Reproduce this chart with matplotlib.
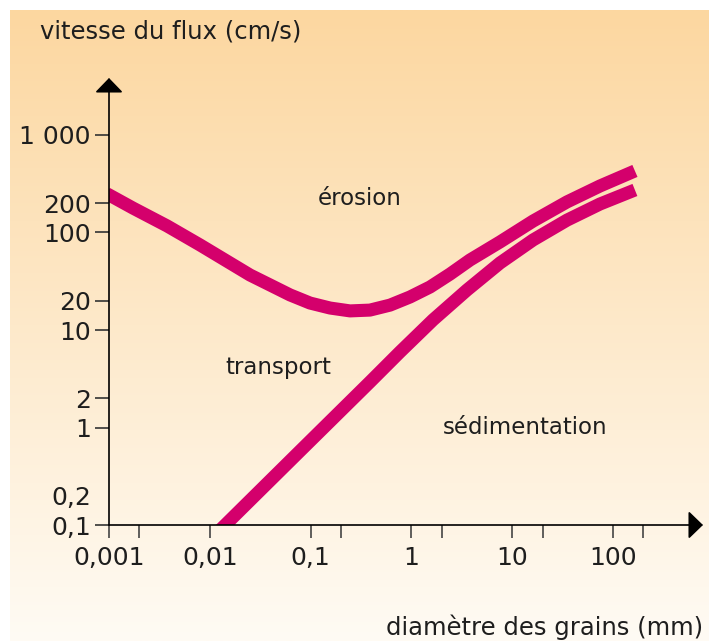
import numpy as np
import matplotlib
matplotlib.use("Agg")
import matplotlib.pyplot as plt

# ===============================
# Data
# ===============================
# erosion threshold (upper curve)
erosion_d = [0.00095, 0.001, 0.00173, 0.00376, 0.008, 0.0251, 0.0395, 0.0625, 0.0987,
             0.156, 0.246, 0.388, 0.614, 0.968, 1.53, 2.42, 3.81, 7.57, 16.1, 35, 74.3, 165]
erosion_v = [250, 243, 178, 117, 74.5, 36.6, 29.0, 22.9, 18.9,
             16.8, 15.7, 16.0, 18.0, 21.8, 27.6, 37.5, 52.2, 80, 131, 206, 300, 428]

# sedimentation threshold (lower curve)
sedim_d = [0.01, 0.0142, 0.0785, 0.388, 0.77, 1.64, 3.56, 7.57, 16.1, 35, 74.3, 165]
sedim_v = [0.07, 0.1, 0.574, 2.93, 5.95, 12.7, 25.7, 48.7, 83.8, 134, 196, 273]

# axis ticks
x_major = [0.001, 0.01, 0.1, 1, 10, 100]
x_major_labels = ["0,001", "0,01", "0,1", "1", "10", "100"]
x_minor = [0.002, 0.2, 2, 20, 200]

y_ticks = [0.1, 0.2, 1, 2, 10, 20, 100, 200, 1000]
y_tick_labels = ["0,1", "0,2", "1", "2", "10", "20", "100", "200", "1 000"]

# zone labels
zones = ["érosion", "transport", "sédimentation"]
zone_pos = [(0.31, 225), (0.0475, 4.1), (13.4, 1.0)]

CURVE = "#d4006c"
INK = "#1e1e1e"

# ===============================
# Figure + gradient background
# ===============================
W, H = 709, 641
fig = plt.figure(figsize=(W / 100, H / 100), dpi=100)
fig.patch.set_facecolor("white")

bg = fig.add_axes([10 / W, 0, 1.0, (H - 10) / H], zorder=0)
top = np.array([252, 215, 160]) / 255
bot = np.array([255, 251, 244]) / 255
t = np.linspace(0, 1, 256)[:, None]
grad = top[None, None, :] * (1 - t[..., None]) + bot[None, None, :] * t[..., None]
bg.imshow(grad, aspect="auto", extent=[0, 1, 0, 1])
bg.set_xlim(0, 1)
bg.set_ylim(0, 1)
bg.set_axis_off()

# main axes (pixel-measured layout)
left, right, bottom, topy = 109, 703, 525, 78
ax = fig.add_axes([left / W, (H - bottom) / H, (right - left) / W, (bottom - topy) / H], zorder=1)
ax.set_facecolor("none")
ax.set_xscale("log")
ax.set_yscale("log")
ax.set_xlim(0.001, 10 ** (-3 + (right - left) / 100.8))
ax.set_ylim(0.1, 10 ** (-1 + (bottom - topy) / 97.5))

# curves
ax.plot(erosion_d, erosion_v, color=CURVE, lw=9.4, solid_capstyle="butt", solid_joinstyle="round")
ax.plot(sedim_d, sedim_v, color=CURVE, lw=9.4, solid_capstyle="butt", solid_joinstyle="round")

# axes as arrows
for spine in ax.spines.values():
    spine.set_visible(False)
arrow = dict(arrowstyle="-|>,head_length=0.9,head_width=0.87", mutation_scale=10,
             lw=1.2, color="black", shrinkA=0, shrinkB=0)
ax.annotate("", xy=(1, 0), xytext=(0, 0), xycoords="axes fraction", arrowprops=arrow)
ax.annotate("", xy=(0, 1), xytext=(0, 0), xycoords="axes fraction", arrowprops=arrow)

# ticks
ax.set_xticks(x_major)
ax.set_xticklabels(x_major_labels)
ax.set_xticks(x_minor, minor=True)
ax.set_xticklabels([], minor=True)
ax.set_yticks(y_ticks)
ax.set_yticklabels(y_tick_labels)
ax.yaxis.set_minor_locator(matplotlib.ticker.NullLocator())

ax.tick_params(axis="x", which="both", direction="out", length=9, width=1.2,
               color="#444444", pad=6, labelsize=18, labelcolor=INK)
ax.tick_params(axis="y", which="both", direction="out", length=10, width=1.2,
               color="#333333", pad=3, labelsize=18, labelcolor=INK)
# the 0,2 label has no tick mark
for tick, val in zip(ax.yaxis.get_major_ticks(), y_ticks):
    if val == 0.2:
        tick.tick1line.set_visible(False)

# zone labels
for name, (xd, yv) in zip(zones, zone_pos):
    ax.text(xd, yv, name, fontsize=16.5, color=INK, ha="center", va="center")

# axis titles
fig.text(40 / W, 1 - 32 / H, "vitesse du flux (cm/s)", fontsize=17.5, color=INK,
         ha="left", va="center")
fig.text(703 / W, 1 - 627 / H, "diamètre des grains (mm)", fontsize=17.5, color=INK,
         ha="right", va="center")

fig.savefig("out.png", dpi=100)
